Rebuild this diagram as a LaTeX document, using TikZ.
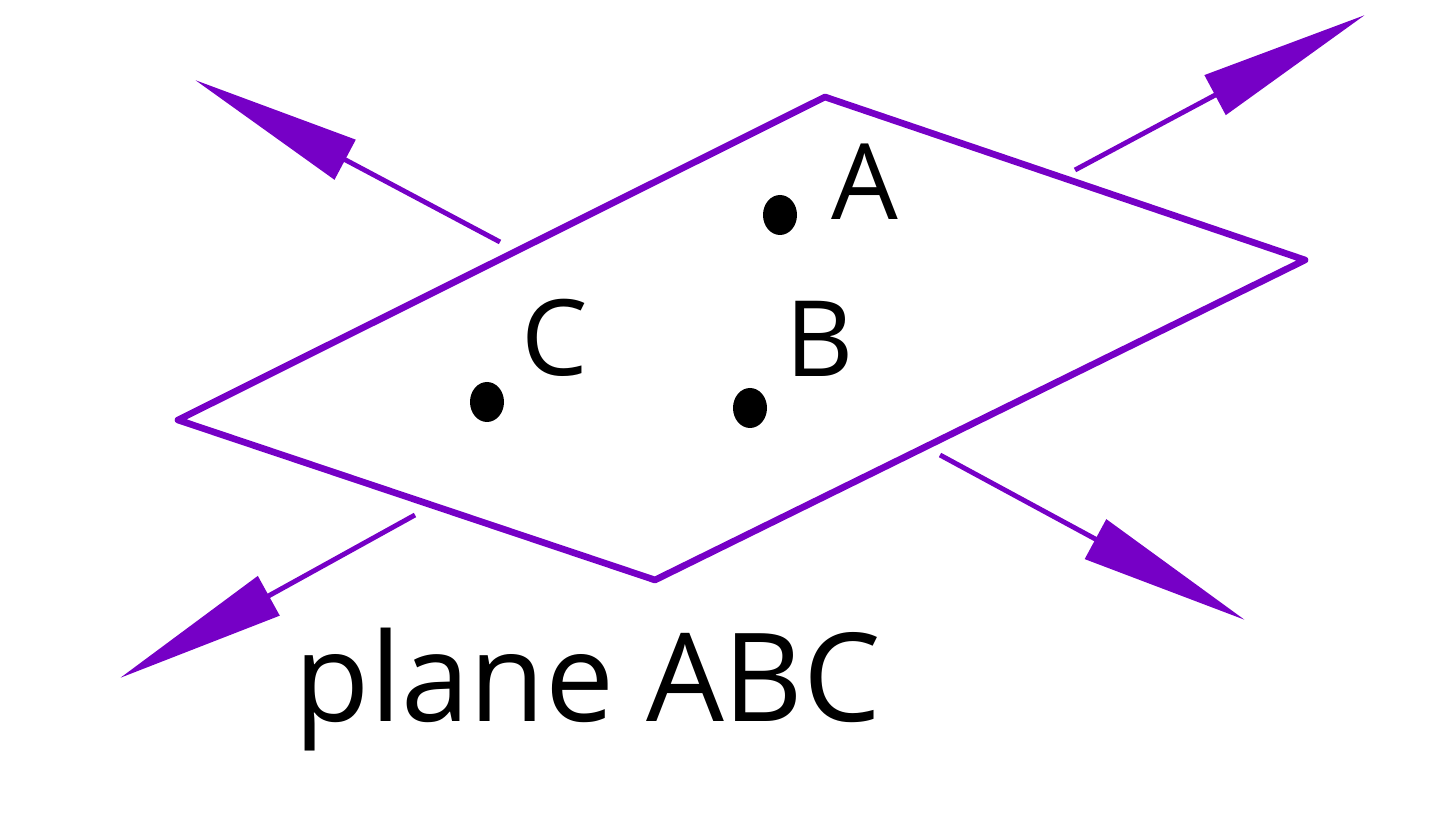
\documentclass[tikz,border=0pt]{standalone}
\usepackage{fontspec}
\setmainfont{Open Sans}
\usetikzlibrary{arrows.meta}
\usetikzlibrary{positioning}

\definecolor{planecol}{RGB}{118,0,198}

\tikzset{
  planeedge/.style={draw=planecol, line width=1.9pt, line join=round},
  normal/.style={draw=planecol, line width=1.4pt,
    -{Triangle[length=1.7cm, width=0.44cm]}, fill=planecol},
  pt/.style={ellipse, fill=black, inner sep=0pt, minimum width=0.34cm, minimum height=0.40cm},
  ptlabel/.style={font=\fontsize{30}{34}\selectfont, inner sep=0pt}
}

\usetikzlibrary{shapes.geometric}

\begin{document}
\begin{tikzpicture}
    \useasboundingbox (0,0) rectangle (14.4,8.2);

    % Plane
    \coordinate (top) at (8.25,7.23);
    \coordinate (rgt) at (13.05,5.60);
    \coordinate (bot) at (6.55,2.40);
    \coordinate (lft) at (1.78,4.00);
    \draw[planeedge] (top) -- (rgt) -- (bot) -- (lft) -- cycle;

    % Arrows
    \coordinate (tl) at (5.00,5.78);
    \coordinate (tltip) at (1.95,7.40);
    \coordinate (tr) at (10.75,6.50);
    \coordinate (trtip) at (13.65,8.05);
    \coordinate (br) at (9.40,3.65);
    \coordinate (brtip) at (12.45,2.00);
    \coordinate (bl) at (4.15,3.05);
    \coordinate (bltip) at (1.20,1.42);
    \draw[normal] (tl) -- (tltip);
    \draw[normal] (tr) -- (trtip);
    \draw[normal] (br) -- (brtip);
    \draw[normal] (bl) -- (bltip);

    % Points
    \node[pt] (a) at (7.80,6.05) {};
    \node[pt] (b) at (7.50,4.12) {};
    \node[pt] (c) at (4.87,4.18) {};
    \node[ptlabel] (la) at (8.65,6.38) {A};
    \node[ptlabel] (lb) at (8.20,4.81) {B};
    \node[ptlabel] (lc) at (5.55,4.82) {C};

    \node[font=\fontsize{35}{40}\selectfont, inner sep=0pt] (cap) at (5.88,1.30) {plane ABC};
\end{tikzpicture}
\end{document}
